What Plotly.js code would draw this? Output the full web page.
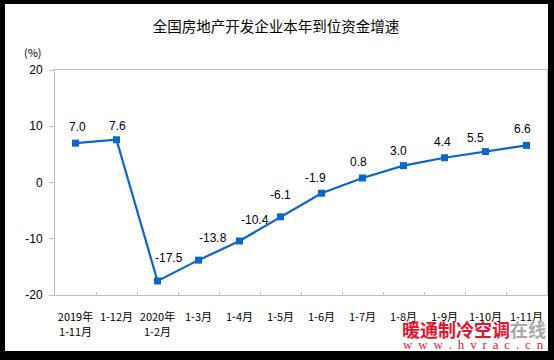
<!DOCTYPE html>
<html>
<head>
<meta charset="utf-8">
<script src="https://cdn.plot.ly/plotly-3.0.1.min.js"></script>
<style>
html,body{margin:0;padding:0;background:#000;width:554px;height:360px;overflow:hidden;}
#chart{position:absolute;left:5px;top:4px;width:543px;height:347px;background:#fff;}
</style>
</head>
<body>
<div id="chart"></div>
<script>
const titleText = "全国房地产开发企业本年到位资金增速";
const categories = ["2019年<br>1-11月","1-12月","2020年<br>1-2月","1-3月","1-4月","1-5月","1-6月","1-7月","1-8月","1-9月","1-10月","1-11月"];
const values = [7.0, 7.6, -17.5, -13.8, -10.4, -6.1, -1.9, 0.8, 3.0, 4.4, 5.5, 6.6];
const valueLabels = ["7.0","7.6","-17.5","-13.8","-10.4","-6.1","-1.9","0.8","3.0","4.4","5.5","6.6"];
const yTicks = [-20, -10, 0, 10, 20];

// label offsets in screen pixels (style only)
const labelShift = [[2,-16],[1,-14],[11,-23],[14,-22],[15,-21],[0,-22],[-6,-15],[-4,-16],[-5,-15],[-2,-16],[-10,-14],[-4,-16]];

const lineColor = "#0a66cc";
const axisColor = "#bfbfbf";

const trace = {
  type: "scatter",
  mode: "lines+markers",
  x: categories,
  y: values,
  line: {color: lineColor, width: 2.2},
  marker: {symbol: "square", size: 7, color: lineColor},
  hoverinfo: "skip"
};

const annotations = values.map((v, i) => ({
  x: categories[i], y: v, xref: "x", yref: "y",
  text: valueLabels[i], showarrow: false,
  xanchor: "center", yanchor: "middle",
  xshift: labelShift[i][0], yshift: -labelShift[i][1],
  font: {family: "Liberation Sans, Arial, sans-serif", size: 12, color: "#000"}
}));

annotations.push({
  xref: "paper", yref: "paper", x: -0.045, y: 1.08,
  text: "(%)", showarrow: false, xanchor: "center", yanchor: "middle",
  font: {family: "Noto Sans CJK SC, sans-serif", size: 11, color: "#000"}
});
annotations.push({
  xref: "paper", yref: "paper", x: 0.851, y: -0.15,
  text: '<b><span style="color:#e8142d">暖通制冷空调</span><span style="color:#a8a8a8">在线</span></b>',
  showarrow: false, xanchor: "center", yanchor: "middle",
  font: {family: "Noto Sans CJK SC, sans-serif", size: 18, color: "#e8142d"}
});
annotations.push({
  xref: "paper", yref: "paper", x: 0.851, y: -0.219,
  text: "w\u2009 w\u2009 w\u2009 .\u2009 h\u2009 v\u2009 r\u2009 a\u2009 c\u2009 .\u2009 c\u2009 n",
  showarrow: false, xanchor: "center", yanchor: "middle",
  font: {family: "Liberation Serif, serif", size: 13, color: "#e8142d"}
});

const layout = {
  width: 543, height: 347,
  margin: {l: 50, r: 1, t: 66, b: 56, pad: 0},
  paper_bgcolor: "#fff", plot_bgcolor: "#fff",
  showlegend: false,
  title: {
    text: titleText, x: 0.499, xref: "container", xanchor: "center",
    y: 1 - 23/347, yref: "container", yanchor: "middle",
    font: {family: "Noto Sans CJK SC, sans-serif", size: 14.5, color: "#000"}
  },
  xaxis: {
    type: "category", categoryarray: categories,
    showline: true, linecolor: axisColor, linewidth: 1, mirror: true,
    ticks: "inside", ticklen: 3, tickcolor: axisColor, tickson: "boundaries",
    showgrid: false, zeroline: false, tickangle: 0,
    ticklabelstandoff: 12,
    tickfont: {family: "Noto Sans CJK SC, sans-serif", size: 11, color: "#000"},
    range: [-0.5, categories.length - 0.5], fixedrange: true
  },
  yaxis: {
    range: [-20, 20], tickvals: yTicks, ticktext: yTicks.map(String),
    showline: true, linecolor: axisColor, linewidth: 1, mirror: true,
    ticks: "outside", ticklen: 5, tickcolor: axisColor,
    showgrid: false, zeroline: false,
    ticklabelstandoff: 4,
    tickfont: {family: "Liberation Sans, Arial, sans-serif", size: 12, color: "#000"},
    fixedrange: true
  },
  annotations: annotations
};

Plotly.newPlot("chart", [trace], layout, {displayModeBar: false, staticPlot: true});
</script>
</body>
</html>
